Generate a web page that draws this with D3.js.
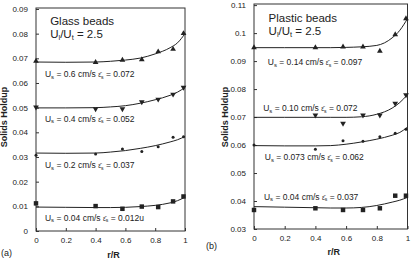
<!DOCTYPE html>
<html><head><meta charset="utf-8">
<script src="https://cdn.jsdelivr.net/npm/d3@7/dist/d3.min.js"></script>
<style>
body{margin:0;background:#fff;}
svg{display:block;font-family:"Liberation Sans",Arial,sans-serif;}
.axis path,.axis line{stroke:#333;stroke-width:1;}
.axis text{font-size:8px;fill:#222;font-family:"Liberation Sans",Arial,sans-serif;}
</style></head><body>
<svg id="c" width="411" height="260"></svg>
<script>
// ---------- data ----------
const rR = [0, 0.4, 0.58, 0.71, 0.82, 0.92, 0.99];
const curveX = [0, 0.2, 0.4, 0.5, 0.6, 0.7, 0.8, 0.9, 0.95, 1];

// Glass beads (a)
const glassLabels = ["0.6", "0.4", "0.2", "0.04"];
const glassEps = ["0.072", "0.052", "0.037", "0.012u"];
const glassPts06 = [0.0689, 0.0684, 0.0693, 0.0695, 0.0727, 0.0737, 0.0801];
const glassPts04 = [0.0502, 0.0495, 0.0495, 0.0523, 0.0534, 0.0554, 0.0582];
const glassPts02 = [0.0307, 0.0312, 0.0332, 0.0322, 0.0342, 0.0380, 0.0382];
const glassPts004 = [0.0112, 0.0101, 0.0090, 0.0099, 0.0097, 0.0120, 0.0140];
const glassFit06 = [0.0685, 0.0684, 0.0685, 0.0688, 0.0693, 0.0701, 0.0718, 0.0743, 0.0763, 0.0800];
const glassFit04 = [0.0499, 0.0499, 0.0500, 0.0503, 0.0508, 0.0518, 0.0532, 0.0550, 0.0563, 0.0582];
const glassFit02 = [0.0316, 0.0315, 0.0316, 0.0320, 0.0326, 0.0335, 0.0346, 0.0361, 0.0370, 0.0383];
const glassFit004 = [0.0097, 0.0096, 0.0095, 0.0095, 0.0096, 0.0099, 0.0104, 0.0114, 0.0123, 0.0137];
const glassYTicks = [0, 0.01, 0.02, 0.03, 0.04, 0.05, 0.06, 0.07, 0.08, 0.09];
const glassYTickLabels = ["0", "0.01", "0.02", "0.03", "0.04", "0.05", "0.06", "0.07", "0.08", "0.09"];
const glassLabelY = [0.0624, 0.0442, 0.0255, 0.0041];

// Plastic beads (b)
const plasticLabels = ["0.14", "0.10", "0.073", "0.04"];
const plasticEps = ["0.097", "0.072", "0.062", "0.037"];
const plasticPts014 = [0.0948, 0.0948, 0.0951, 0.0951, 0.0936, 0.0995, 0.1052];
const plasticPts010 = [null, 0.0707, 0.0677, 0.0707, 0.0707, 0.0749, 0.0779];
const plasticPts0073 = [0.0600, 0.0585, 0.0615, 0.0614, 0.0630, 0.0642, 0.0656];
const plasticPts004 = [0.0368, 0.0374, 0.0368, 0.0368, 0.0374, 0.0419, 0.0419];
const plasticFit014 = [0.0948, 0.0948, 0.0948, 0.0948, 0.0949, 0.0951, 0.0956, 0.0983, 0.1010, 0.1052];
const plasticFit010 = [0.0699, 0.0699, 0.0699, 0.0699, 0.0699, 0.0701, 0.0710, 0.0732, 0.0752, 0.0780];
const plasticFit0073 = [0.0598, 0.0597, 0.0597, 0.0598, 0.0603, 0.0611, 0.0621, 0.0635, 0.0645, 0.0664];
const plasticFit004 = [0.0380, 0.0378, 0.0376, 0.0375, 0.0375, 0.0377, 0.0384, 0.0396, 0.0403, 0.0413];
const plasticYTicks = [0.03, 0.04, 0.05, 0.06, 0.07, 0.08, 0.09, 0.10, 0.11];
const plasticYTickLabels = ["0.03", "0.04", "0.05", "0.06", "0.07", "0.08", "0.09", "0.1", "0.11"];
const plasticLabelY = [0.0886, 0.0720, 0.0545, 0.0404];
const plasticLabelX = [0.09, 0.06, 0.07, 0.065];

const xTicks = [0, 0.2, 0.4, 0.6, 0.8, 1];
const xTickLabels = ["0", "0.2", "0.4", "0.6", "0.8", "1"];
const markers = ["triUp", "triDown", "dot", "square"];

// ---------- drawing ----------
const svg = d3.select("#c");
const ink = "#222";

function marker(g, type, x, y) {
  if (type === "triUp") g.append("path").attr("d", d3.symbol(d3.symbolTriangle, 14)()).attr("transform", `translate(${x},${y})`).attr("fill", ink);
  else if (type === "triDown") g.append("path").attr("d", d3.symbol(d3.symbolTriangle, 14)()).attr("transform", `translate(${x},${y}) rotate(180)`).attr("fill", ink);
  else if (type === "dot") g.append("circle").attr("cx", x).attr("cy", y).attr("r", 1.5).attr("fill", ink);
  else g.append("path").attr("d", d3.symbol(d3.symbolSquare, 20)()).attr("transform", `translate(${x},${y})`).attr("fill", ink);
}

function label(g, x, y, us, eps, size) {
  const t = g.append("text").attr("x", x).attr("y", y).attr("font-size", size).attr("fill", ink);
  t.append("tspan").text("U");
  t.append("tspan").attr("font-size", size * 0.7).attr("dy", 1.5).text("s");
  t.append("tspan").attr("dy", -1.5).text(" = " + us + " cm/s ");
  t.append("tspan").attr("font-size", size * 0.75).text("\u03B5\u0304");
  t.append("tspan").attr("font-size", size * 0.6).attr("dy", 1.5).text("s");
  t.append("tspan").attr("dy", -1.5).text(" = " + eps);
}

function ratio(g, x, y, size) {
  const t = g.append("text").attr("x", x).attr("y", y).attr("font-size", size).attr("fill", ink);
  t.append("tspan").text("U");
  t.append("tspan").attr("font-size", size * 0.65).attr("dy", 2).text("l");
  t.append("tspan").attr("dy", -2).text("/U");
  t.append("tspan").attr("font-size", size * 0.65).attr("dy", 2).text("t");
  t.append("tspan").attr("dy", -2).text(" = 2.5");
}

function panel(opt) {
  const x = d3.scaleLinear().domain([0, 1]).range([opt.x0, opt.x1]);
  const y = d3.scaleLinear().domain(opt.yDomain).range([opt.yb, opt.yt]);
  const g = svg.append("g");

  // box
  g.append("rect").attr("x", opt.x0).attr("y", opt.yt).attr("width", opt.x1 - opt.x0).attr("height", opt.yb - opt.yt)
    .attr("fill", "none").attr("stroke", "#333").attr("stroke-width", 1);

  const ya = d3.axisLeft(y).tickValues(opt.yTicks).tickFormat((d, i) => opt.yTickLabels[i]).tickSize(-3).tickPadding(8);
  g.append("g").attr("class", "axis").attr("transform", `translate(${opt.x0},0)`).call(ya);
  const xa = d3.axisBottom(x).tickValues(xTicks).tickFormat((d, i) => xTickLabels[i]).tickSize(-3).tickPadding(6);
  g.append("g").attr("class", "axis").attr("transform", `translate(0,${opt.yb})`).call(xa);
  g.selectAll(".axis .domain").remove();

  const line = d3.line().x(d => x(d[0])).y(d => y(d[1])).curve(d3.curveMonotoneX);
  opt.fits.forEach(f => {
    g.append("path").attr("d", line(curveX.map((c, i) => [c, f[i]]))).attr("fill", "none").attr("stroke", ink).attr("stroke-width", 1);
  });
  opt.pts.forEach((p, s) => {
    p.forEach((v, i) => { if (v != null) marker(g, markers[s], x(rR[i]), y(v)); });
  });
  opt.labels.forEach((u, i) => label(g, x(opt.labelX[i]), y(opt.labelY[i]), u, opt.eps[i], 8.5));

  g.append("text").attr("x", x(opt.titleX)).attr("y", y(opt.titleY)).attr("font-size", 11.5).attr("fill", ink).text(opt.title);
  ratio(g, x(opt.titleX), y(opt.ratioY), 11.5);

  // axis titles
  g.append("text").attr("transform", `translate(${opt.ytx},${opt.yty}) rotate(-90)`).attr("text-anchor", "middle")
    .attr("font-size", 9).attr("font-weight", "bold").attr("fill", ink).text("Solids Holdup");
  g.append("text").attr("x", x(0.52)).attr("y", opt.xty).attr("text-anchor", "middle")
    .attr("font-size", 9).attr("font-weight", "bold").attr("fill", ink).text("r/R");
  g.append("text").attr("x", opt.tagX).attr("y", opt.tagY).attr("font-size", 9).attr("fill", ink).text(opt.tag);
}

panel({
  x0: 36, x1: 185, yt: 8, yb: 231, yDomain: [0, 0.0904],
  yTicks: glassYTicks, yTickLabels: glassYTickLabels,
  fits: [glassFit06, glassFit04, glassFit02, glassFit004],
  pts: [glassPts06, glassPts04, glassPts02, glassPts004],
  labels: glassLabels, eps: glassEps, labelY: glassLabelY, labelX: [0.06, 0.06, 0.06, 0.06],
  title: "Glass beads", titleX: 0.095, titleY: 0.0835, ratioY: 0.0782,
  ytx: 7, yty: 117, xty: 258, tag: "(a)", tagX: 1, tagY: 256
});

panel({
  x0: 254, x1: 407.5, yt: 4, yb: 229, yDomain: [0.03, 0.1104],
  yTicks: plasticYTicks, yTickLabels: plasticYTickLabels,
  fits: [plasticFit014, plasticFit010, plasticFit0073, plasticFit004],
  pts: [plasticPts014, plasticPts010, plasticPts0073, plasticPts004],
  labels: plasticLabels, eps: plasticEps, labelY: plasticLabelY, labelX: plasticLabelX,
  title: "Plastic beads", titleX: 0.095, titleY: 0.1041, ratioY: 0.0993,
  ytx: 228, yty: 117, xty: 255, tag: "(b)", tagX: 206, tagY: 249
});
</script>
</body></html>
